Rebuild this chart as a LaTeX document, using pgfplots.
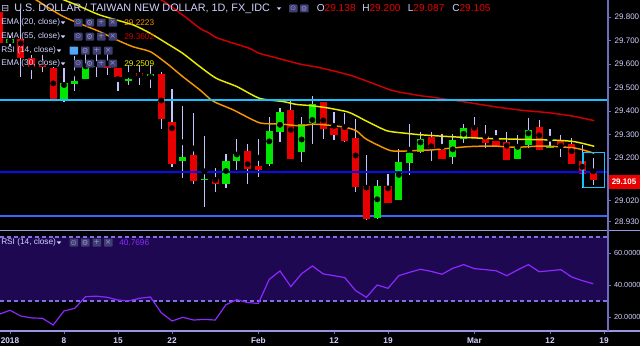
\documentclass[border=0pt]{standalone}
\usepackage{pgfplots}
\usepackage{pgfplotstable}
\pgfplotsset{compat=1.18}
\usepackage{fontspec}
\setmainfont{Liberation Sans}
\newfontfamily\dejavu{DejaVu Sans}

\definecolor{cgreen}{RGB}{0,230,0}
\definecolor{cred}{RGB}{232,0,0}
\definecolor{cwick}{RGB}{195,195,255}
\definecolor{ema20}{RGB}{245,150,0}
\definecolor{ema30}{RGB}{235,235,0}
\definecolor{ema55}{RGB}{205,0,0}
\definecolor{ccyan}{RGB}{20,195,255}
\definecolor{cblue}{RGB}{10,10,245}
\definecolor{clblue}{RGB}{60,100,255}
\definecolor{axcol}{RGB}{110,110,190}
\definecolor{sepcol}{RGB}{150,150,225}
\definecolor{txt}{RGB}{210,210,255}
\definecolor{rsibg}{RGB}{30,8,82}
\definecolor{rsidash}{RGB}{130,110,230}
\definecolor{rsiline}{RGB}{140,40,255}
\definecolor{icon}{RGB}{62,62,115}
\definecolor{iconhl}{RGB}{70,170,255}
\definecolor{icontxt}{RGB}{150,150,200}

\pgfplotstableread{
idx o h l c
0 29.688 29.720 29.675 29.705
5 29.449 29.581 29.440 29.517
6 29.515 29.634 29.486 29.529
7 29.535 29.645 29.535 29.586
8 29.587 29.652 29.546 29.591
11 29.529 29.596 29.510 29.535
13 29.550 29.596 29.496 29.556
16 29.186 29.421 29.113 29.203
18 29.105 29.294 28.993 29.111
20 29.091 29.216 29.074 29.186
21 29.189 29.281 29.149 29.216
24 29.176 29.376 29.166 29.314
25 29.311 29.413 29.270 29.396
27 29.224 29.373 29.185 29.345
28 29.349 29.464 29.260 29.431
34 28.946 29.107 28.942 29.081
36 29.020 29.237 29.020 29.183
37 29.180 29.343 29.128 29.223
38 29.224 29.311 29.222 29.280
41 29.203 29.301 29.173 29.277
42 29.280 29.343 29.263 29.326
47 29.197 29.298 29.197 29.246
48 29.254 29.369 29.241 29.319
50 29.243 29.322 29.243 29.251
}\upc

\pgfplotstableread{
idx o h l c
-1 29.822 29.840 29.670 29.688
1 29.705 29.829 29.546 29.624
2 29.624 29.638 29.535 29.588
3 29.596 29.638 29.567 29.588
4 29.581 29.588 29.447 29.449
9 29.596 29.652 29.553 29.581
10 29.581 29.585 29.486 29.546
12 29.560 29.596 29.510 29.550
14 29.557 29.567 29.322 29.364
15 29.354 29.492 29.163 29.174
17 29.213 29.393 29.088 29.103
19 29.111 29.156 29.057 29.091
22 29.230 29.260 29.088 29.153
23 29.165 29.281 29.121 29.148
26 29.404 29.444 29.196 29.196
29 29.437 29.440 29.280 29.325
30 29.328 29.396 29.277 29.299
31 29.328 29.393 29.270 29.274
32 29.285 29.365 29.057 29.077
33 29.080 29.211 28.937 28.939
35 29.081 29.132 29.010 29.010
39 29.288 29.311 29.189 29.243
40 29.236 29.301 29.195 29.195
43 29.333 29.373 29.284 29.284
44 29.295 29.339 29.244 29.263
45 29.274 29.319 29.251 29.251
46 29.268 29.312 29.193 29.193
49 29.333 29.360 29.233 29.233
51 29.271 29.298 29.206 29.257
52 29.260 29.284 29.175 29.175
53 29.186 29.255 29.071 29.131
54 29.138 29.200 29.087 29.105
}\downc

\pgfplotstableread{
idx rsi
-1 21.7
0 24.2
1 20.6
2 19.4
3 19.2
4 15.0
5 23.75
6 25.4
7 32.7
8 33.0
9 32.3
10 30.6
11 30.0
12 31.7
13 32.5
14 22.7
15 17.5
16 19.8
17 18.1
18 18.5
19 18.1
20 27.7
21 30.8
22 29.0
23 28.5
24 43.5
25 48.75
26 39.0
27 47.0
28 51.9
29 46.9
30 45.8
31 44.6
32 36.5
33 32.3
34 40.0
35 37.9
36 45.8
37 47.9
38 49.8
39 48.5
40 46.7
41 50.4
42 52.7
43 50.2
44 49.6
45 48.9
46 45.8
47 49.4
48 52.7
49 48.3
50 48.9
51 49.6
52 45.0
53 42.7
54 40.7696
}\rsitab

\newcommand{\ico}[4]{%
  \fill[#3, rounded corners=0.6] (#1,#2-4) rectangle (#1+8.5,#2+4);
  \node[text=icontxt, font=\dejavu\fontsize{5.5}{5.5}\selectfont, inner sep=0] at (#1+4.25,#2) {#4};}
\newcommand{\tri}[2]{\fill[txt] (#1-2.2,#2-1.2) -- (#1+2.2,#2-1.2) -- (#1,#2+1.4) -- cycle;}

\pgfplotsset{
  wick/.style={only marks, mark=none, error bars/.cd, y dir=both, y explicit, error mark=none,
    error bar style={cwick, line width=0.9pt}},
}

% candle bodies: one filled rectangle per table row, read from the table
\newcommand{\bodies}[2]{%
  \pgfplotstablegetrowsof{#1}%
  \pgfmathtruncatemacro\nrows{\pgfplotsretval-1}%
  \pgfplotsforeachungrouped \ci in {0,...,\nrows}{%
    \pgfplotstablegetelem{\ci}{idx}\of#1\let\cx\pgfplotsretval
    \pgfplotstablegetelem{\ci}{o}\of#1\let\co\pgfplotsretval
    \pgfplotstablegetelem{\ci}{c}\of#1\let\cc\pgfplotsretval
    \pgfmathsetmacro\xa{\cx-0.34}%
    \pgfmathsetmacro\xb{\cx+0.34}%
    \pgfmathsetmacro\ym{(\co+\cc)/2}%
    \pgfmathsetmacro\hh{max(abs(\cc-\co)/2,0.003)}%
    \pgfmathsetmacro\ya{\ym-\hh}%
    \pgfmathsetmacro\yb{\ym+\hh}%
    \edef\temp{\noexpand\addplot[fill=#2, draw=none] coordinates {(\xa,\ya) (\xb,\ya) (\xb,\yb) (\xa,\yb)};}%
    \temp
  }%
}

\begin{document}
\begin{tikzpicture}
\begin{scope}[x=0.75pt,y=0.75pt]
\fill[black] (0,0) rectangle (640,346);
\end{scope}

% ---------------- price panel ----------------
\begin{axis}[
  at={(0pt,87pt)}, anchor=south west, scale only axis,
  width=456pt, height=172.5pt,
  xmin=-0.926, xmax=55.37, ymin=28.894, ymax=29.872,
  axis x line=none, axis y line*=right,
  y axis line style={draw=none},
  ytick={28.93,29.02,29.2,29.3,29.4,29.5,29.6,29.7,29.8},
  yticklabels={28.930,29.020,29.200,29.300,29.400,29.500,29.600,29.700,29.800},
  /pgf/number format/assume math mode=true,
  yticklabel style={font=\fontsize{6}{7}\selectfont, text=txt, anchor=west, xshift=-1pt},
  tick align=outside, major tick length=2.5pt,
  tick style={axcol, line width=0.6pt},
]
\addplot[clblue, line width=1pt] coordinates {(-2,28.953) (57,28.953)};
% wicks
\addplot[wick] table[x=idx, y expr={(\thisrow{h}+\thisrow{l})/2}, y error expr={(\thisrow{h}-\thisrow{l})/2}] {\upc};
\addplot[wick] table[x=idx, y expr={(\thisrow{h}+\thisrow{l})/2}, y error expr={(\thisrow{h}-\thisrow{l})/2}] {\downc};
% bodies
\bodies{\upc}{cgreen}
\bodies{\downc}{cred}
% EMA 55
\addplot[ema55, line width=1.1pt, smooth, tension=0.4] coordinates {
(13.0,29.900) (14.5,29.858) (16.4,29.794) (17.6,29.751) (18.5,29.730) (19.1,29.712)
(20.7,29.688) (22.2,29.666) (23.1,29.645) (25.0,29.622) (26.9,29.599) (28.4,29.587)
(29.9,29.571) (31.5,29.552) (32.7,29.533) (33.8,29.514) (35.2,29.490) (36.1,29.480)
(38.0,29.465) (39.2,29.458) (42.3,29.437) (45.2,29.416) (47.6,29.402) (49.8,29.393)
(52.0,29.379) (54.1,29.359)};
% EMA 30
\addplot[ema30, line width=1.1pt, smooth, tension=0.4] coordinates {
(3.5,29.900) (6.2,29.850) (8.33,29.808) (11.4,29.766) (13.0,29.730) (14.5,29.688)
(16.0,29.645) (17.6,29.588) (19.1,29.539) (21.0,29.504) (23.1,29.454) (25.3,29.440)
(26.5,29.428) (27.8,29.423) (29.3,29.414) (31.2,29.397) (32.1,29.379) (33.0,29.357)
(34.9,29.316) (36.7,29.305) (38.0,29.299) (40.7,29.291) (43.8,29.284) (46.9,29.280)
(50.0,29.277) (52.2,29.270) (54.1,29.250)};
% EMA 20
\addplot[ema20, line width=1.1pt, smooth, tension=0.4] coordinates {
(1.5,29.900) (2.5,29.870) (5.0,29.800) (8.33,29.737) (9.9,29.702) (11.4,29.673)
(13.0,29.652) (14.5,29.603) (16.0,29.546) (17.6,29.489) (18.8,29.442) (20.7,29.404)
(23.1,29.350) (25.0,29.345) (26.85,29.337) (28.1,29.344) (29.9,29.338) (31.2,29.329)
(32.1,29.315) (33.0,29.280) (35.2,29.232) (36.7,29.230) (38.0,29.233) (39.2,29.235)
(42.3,29.248) (44.6,29.251) (46.9,29.246) (49.1,29.251) (50.9,29.248) (52.5,29.241)
(54.1,29.220)};
\addplot[ccyan, line width=1.2pt] coordinates {(-2,29.447) (57,29.447)};
\addplot[cblue, line width=1.5pt] coordinates {(-2,29.142) (57,29.142)};
\addplot[ccyan, line width=0.9pt] coordinates {(53.06,29.075) (55.03,29.075) (55.03,29.224) (53.06,29.224) (53.06,29.075)};
\end{axis}

% ---------------- RSI panel ----------------
\begin{axis}[
  at={(0pt,11.25pt)}, anchor=south west, scale only axis,
  width=456pt, height=74.25pt,
  xmin=-0.926, xmax=55.37, ymin=11.25, ymax=73.1,
  axis x line*=bottom, axis y line*=right,
  axis line style={draw=none},
  xtick={0,5,10,15,23,30,35,43,50,55},
  xticklabels={2018,8,15,22,Feb,12,19,Mar,12,19},
  ytick={20,40,60},
  yticklabels={20.0000,40.0000,60.0000},
  /pgf/number format/assume math mode=true,
  xticklabel style={font=\bfseries\fontsize{6.2}{7}\selectfont, text=txt, yshift=1pt},
  yticklabel style={font=\fontsize{5.5}{7}\selectfont, text=txt, anchor=west, xshift=-1.5pt},
  tick align=outside, major tick length=2.5pt,
  tick style={axcol, line width=0.6pt},
]
\addplot[fill=rsibg, draw=none] coordinates {(-2,30) (57,30) (57,70) (-2,70)};
\addplot[rsidash, line width=1pt, dash pattern=on 3pt off 2.2pt] coordinates {(-0.926,70) (55.37,70)};
\addplot[rsidash, line width=1pt, dash pattern=on 3pt off 2.2pt] coordinates {(-0.926,30) (55.37,30)};
\addplot[rsiline, line width=0.9pt] table[x=idx, y=rsi] {\rsitab};
\end{axis}

\begin{scope}[x=0.75pt,y=0.75pt]
\fill[black] (608.5,0) rectangle (640,14);
\draw[sepcol, line width=0.9pt] (0,115.3) -- (640,115.3);
\draw[sepcol, line width=0.9pt] (0,15) -- (640,15);
\draw[axcol, line width=1.1pt] (608,15) -- (608,346);
\fill[cred] (609,157) rectangle (640,171);
\node[anchor=west, inner sep=0, text=white, font=\bfseries\fontsize{6}{7}\selectfont] at (611.5,164) {29.105};
\end{scope}

\begin{scope}[x=0.75pt, y=-0.75pt, yshift=259.5pt]
\node[anchor=west, inner sep=0, text=txt, font=\dejavu\fontsize{7}{7}\selectfont] at (1,8.5) {⊟};
\node[anchor=west, inner sep=0, text=txt, font=\fontsize{8.1}{9}\selectfont] at (14,8.5) {U.S. DOLLAR / TAIWAN NEW DOLLAR, 1D, FX\_IDC};
\tri{279}{8.5}
\ico{289}{8.5}{icon}{⊙}
\ico{300}{8.5}{icon}{⚙}
\node[anchor=west, inner sep=0, font=\fontsize{7.6}{9}\selectfont] at (316.5,8.5) {\textcolor{txt}{O}\textcolor{cred}{29.138}};
\node[anchor=west, inner sep=0, font=\fontsize{7.6}{9}\selectfont] at (362,8.5) {\textcolor{txt}{H}\textcolor{cred}{29.200}};
\node[anchor=west, inner sep=0, font=\fontsize{7.6}{9}\selectfont] at (407.5,8.5) {\textcolor{txt}{L}\textcolor{cred}{29.087}};
\node[anchor=west, inner sep=0, font=\fontsize{7.6}{9}\selectfont] at (452,8.5) {\textcolor{txt}{C}\textcolor{cred}{29.105}};

\node[anchor=west, inner sep=0, text=txt, font=\fontsize{6.2}{7}\selectfont] at (1,22.7) {EMA (20, close)};
\tri{63}{22.7}
\ico{74}{22.7}{icon}{⊙}\ico{85.5}{22.7}{icon}{⚙}\ico{97}{22.7}{icon}{+}\ico{108.5}{22.7}{icon}{×}
\node[anchor=west, inner sep=0, text=ema20, font=\fontsize{6.2}{7}\selectfont] at (124,22.7) {29.2223};

\node[anchor=west, inner sep=0, text=txt, font=\fontsize{6.2}{7}\selectfont] at (1,36.7) {EMA (55, close)};
\tri{63}{36.7}
\ico{74}{36.7}{icon}{⊙}\ico{85.5}{36.7}{icon}{⚙}\ico{97}{36.7}{icon}{+}\ico{108.5}{36.7}{icon}{×}
\node[anchor=west, inner sep=0, text=ema55, font=\fontsize{6.2}{7}\selectfont] at (124,36.7) {29.3602};

\node[anchor=west, inner sep=0, text=txt, font=\fontsize{6.2}{7}\selectfont] at (1,50.7) {RSI (14, close)};
\tri{59}{50.7}
\ico{69.5}{50.7}{iconhl}{⊙}\ico{81}{50.7}{icon}{⚙}\ico{92.5}{50.7}{icon}{+}\ico{104}{50.7}{icon}{×}

\node[anchor=west, inner sep=0, text=txt, font=\fontsize{6.2}{7}\selectfont] at (1,63.7) {EMA (30, close)};
\tri{63}{63.7}
\ico{74}{63.7}{icon}{⊙}\ico{85.5}{63.7}{icon}{⚙}\ico{97}{63.7}{icon}{+}\ico{108.5}{63.7}{icon}{×}
\node[anchor=west, inner sep=0, text=ema30, font=\fontsize{6.2}{7}\selectfont] at (124,63.7) {29.2509};

\node[anchor=west, inner sep=0, text=txt, font=\fontsize{6.2}{7}\selectfont] at (1,242.7) {RSI (14, close)};
\tri{59}{242.7}
\ico{69.5}{242.7}{icon}{⊙}\ico{81}{242.7}{icon}{⚙}\ico{92.5}{242.7}{icon}{+}\ico{104}{242.7}{icon}{×}
\node[anchor=west, inner sep=0, text=rsiline, font=\fontsize{6.2}{7}\selectfont] at (119,242.7) {40.7696};
\end{scope}

\pgfresetboundingbox
\path[use as bounding box] (0pt,0pt) rectangle (480pt,259.5pt);
\end{tikzpicture}
\end{document}
